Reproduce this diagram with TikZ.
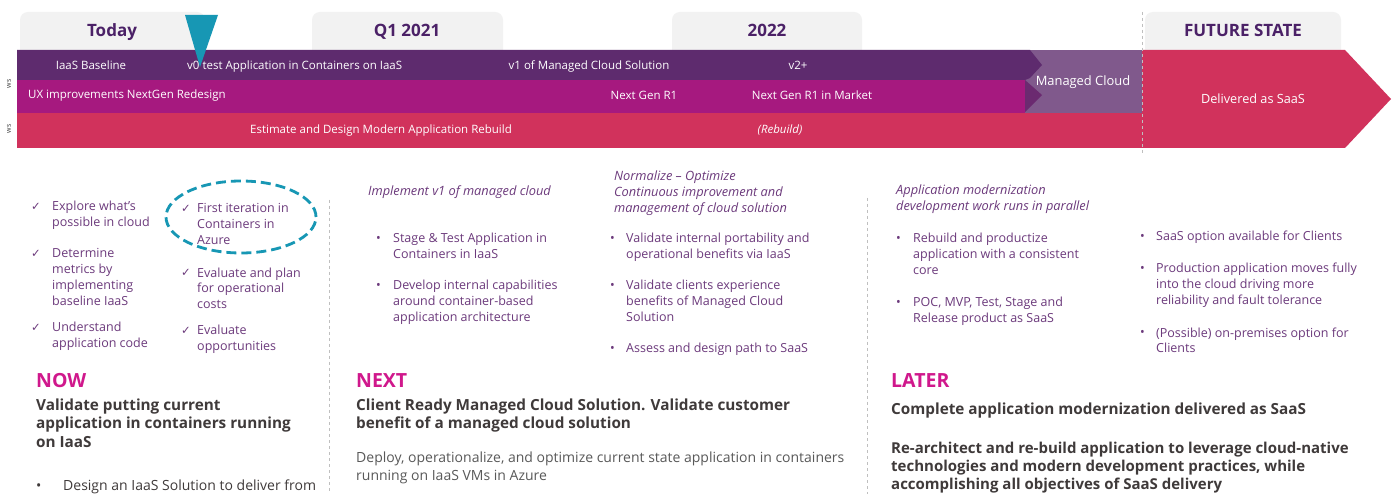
\documentclass[tikz,border=0pt]{standalone}
\usepackage{fontspec}
\setmainfont{Open Sans}
\newfontfamily\symfont{DejaVu Sans}

\definecolor{tabgray}{HTML}{F2F2F2}
\definecolor{hdpurple}{HTML}{4B2167}
\definecolor{barpurple}{HTML}{5E2B6E}
\definecolor{barmag}{HTML}{A6197F}
\definecolor{barred}{HTML}{D1325C}
\definecolor{mcpurple}{HTML}{80598C}
\definecolor{chevdark}{HTML}{6B2A70}
\definecolor{markteal}{HTML}{1797B4}
\definecolor{txtpurple}{HTML}{6C3A7C}
\definecolor{hotpink}{HTML}{D0188C}
\definecolor{darktext}{HTML}{3F3A3A}
\definecolor{bodygray}{HTML}{595959}
\definecolor{sepgray}{HTML}{BFBFBF}

\tikzset{
  tabtext/.style={anchor=base,inner sep=0,text=hdpurple,font=\bfseries\fontsize{17}{20}\selectfont},
  bartext/.style={anchor=base,inner sep=0,text=white,font=\fontsize{11.5}{14}\selectfont},
  wslabel/.style={anchor=center,inner sep=0,rotate=90,text=darkgray,font=\fontsize{7}{8}\selectfont},
  item/.style={anchor=base west,align=left,inner sep=0,text=txtpurple,font=\fontsize{12.5}{16}\selectfont},
  itemhead/.style={item,font=\itshape\fontsize{12.8}{16}\selectfont},
  chk/.style={anchor=base west,inner sep=0,text=txtpurple,font=\symfont\fontsize{11.5}{12}\selectfont},
  dot/.style={anchor=base west,inner sep=0,text=txtpurple,font=\fontsize{12.5}{16}\selectfont},
  phase/.style={anchor=base west,inner sep=0,text=hotpink,font=\bfseries\fontsize{19.5}{22}\selectfont},
  goal/.style={anchor=base west,align=left,inner sep=0,text=darktext,font=\bfseries\fontsize{15.3}{18.5}\selectfont},
  body/.style={anchor=base west,align=left,inner sep=0,text=bodygray,font=\fontsize{14}{18}\selectfont},
  sep/.style={sepgray,dashed,line width=0.8pt}
}

\begin{document}
\begin{tikzpicture}[x=1pt,y=-1pt]
\useasboundingbox (0,0) rectangle (1393,494);
\fill[white] (0,0) rectangle (1393,494);

% header tabs
\fill[tabgray,rounded corners=8pt] (20,12) rectangle (205,60);
\fill[tabgray,rounded corners=8pt] (312,12) rectangle (503,60);
\fill[tabgray,rounded corners=8pt] (672,12) rectangle (862,60);
\fill[tabgray,rounded corners=8pt] (1145,12) rectangle (1341,60);
\node[tabtext] (today) at (112,37) {Today};
\node[tabtext] (q1) at (407,37) {Q1 2021};
\node[tabtext] (y22) at (767,37) {2022};
\node[tabtext] (future) at (1243,37) {FUTURE STATE};

% bars
\fill[mcpurple] (1020,50) rectangle (1142,113);
\fill[barred] (17,113) rectangle (1142,148);
\fill[barred] (1142,50) -- (1345,50) -- (1391,99) -- (1345,148) -- (1142,148) -- cycle;
\fill[barmag] (17,80) rectangle (1025,113);
\fill[chevdark] (1025,80) -- (1042,95) -- (1025,112) -- cycle;
\fill[barpurple] (17,50) -- (1030,50) -- (1042,65) -- (1030,78) -- (1025,80) -- (17,80) -- cycle;
\draw[sep] (1142,12) -- (1142,155);
\fill[markteal] (185,15) -- (218,15) -- (200,67) -- cycle;

\node[wslabel] (ws1) at (9,84) {ws};
\node[wslabel] (ws2) at (9,129) {ws};

\node[bartext] (b1) at (91,70) {IaaS Baseline};
\node[bartext,anchor=base west] (b2) at (187,70) {v0 test Application in Containers on IaaS};
\node[bartext] (b3) at (589,70) {v1 of Managed Cloud Solution};
\node[bartext] (b4) at (798,70) {v2+};
\node[bartext,anchor=base west] (b5) at (28,99) {UX improvements NextGen Redesign};
\node[bartext] (b6) at (644,100) {Next Gen R1};
\node[bartext] (b7) at (812,100) {Next Gen R1 in Market};
\node[bartext] (b8) at (381,134) {Estimate and Design Modern Application Rebuild};
\node[bartext,font=\itshape\fontsize{11.5}{14}\selectfont] (b9) at (780,134) {(Rebuild)};
\node[bartext,font=\fontsize{12.9}{15}\selectfont] (mc) at (1083,86) {Managed Cloud};
\node[bartext,font=\fontsize{12.7}{15}\selectfont] (saas) at (1253,104) {Delivered as SaaS};

% separators
\draw[sep] (329,200) -- (329,494);
\draw[sep] (867,198) -- (867,494);

% now column
\node[chk] (k1) at (31,211) {✓};
\node[item] (n1) at (52,227) {Explore what’s\\possible in cloud};
\node[chk] (k2) at (31,258) {✓};
\node[item] (n2) at (52,306) {Determine\\metrics by\\implementing\\baseline IaaS};
\node[chk] (k3) at (31,332) {✓};
\node[item] (n3) at (52,348) {Understand\\application code};
\node[chk] (k4) at (181,213) {✓};
\node[item] (n4) at (197,245) {First iteration in\\Containers in\\Azure};
\node[chk] (k5) at (181,277) {✓};
\node[item] (n5) at (197,309) {Evaluate and plan\\for operational\\costs};
\node[chk] (k6) at (181,335) {✓};
\node[item] (n6) at (197,351) {Evaluate\\opportunities};
\draw[markteal,line width=2.8pt,dash pattern=on 10pt off 5pt] (241,217) ellipse [x radius=75pt,y radius=36pt];

% next column
\node[itemhead] (h1) at (368,196) {Implement v1 of managed cloud};
\node[dot] (d1) at (376,243) {•};
\node[item] (x1) at (393,259) {Stage \& Test Application in\\Containers in IaaS};
\node[dot] (d2) at (376,290) {•};
\node[item] (x2) at (393,322) {Develop internal capabilities\\around container-based\\application architecture};
\node[itemhead] (h2) at (614,213) {Normalize – Optimize\\Continuous improvement and\\management of cloud solution};
\node[dot] (d3) at (610,243) {•};
\node[item] (x3) at (626,259) {Validate internal portability and\\operational benefits via IaaS};
\node[dot] (d4) at (610,290) {•};
\node[item] (x4) at (626,322) {Validate clients experience\\benefits of Managed Cloud\\Solution};
\node[dot] (d5) at (610,353) {•};
\node[item] (x5) at (626,353) {Assess and design path to SaaS};

% later column
\node[itemhead] (h3) at (896,211) {Application modernization\\development work runs in parallel};
\node[dot] (d6) at (896,243) {•};
\node[item] (y1) at (913,275) {Rebuild and productize\\application with a consistent\\core};
\node[dot] (d7) at (896,307) {•};
\node[item] (y2) at (913,323) {POC, MVP, Test, Stage and\\Release product as SaaS};
\node[dot] (d8) at (1140,241) {•};
\node[item] (y3) at (1156,241) {SaaS option available for Clients};
\node[dot] (d9) at (1140,273) {•};
\node[item] (y4) at (1156,305) {Production application moves fully\\into the cloud driving more\\reliability and fault tolerance};
\node[dot] (d10) at (1140,337) {•};
\node[item] (y5) at (1156,353) {(Possible) on-premises option for\\Clients};

% phases
\node[phase] (now) at (36,388) {NOW};
\node[goal] (g1) at (36,447) {Validate putting current\\application in containers running\\on IaaS};
\node[body,text=darktext] (dd) at (36,490) {•};
\node[body,text=darktext] (g2) at (63,490) {Design an IaaS Solution to deliver from};
\node[phase] (next) at (356,388) {NEXT};
\node[goal] (g3) at (356,428.5) {Client Ready Managed Cloud Solution. Validate customer\\benefit of a managed cloud solution};
\node[body] (g4) at (356,480) {Deploy, operationalize, and optimize current state application in containers\\running on IaaS VMs in Azure};
\node[phase] (later) at (891,388) {LATER};
\node[goal] (g5) at (891,414) {Complete application modernization delivered as SaaS};
\node[goal,font=\bfseries\fontsize{15}{18}\selectfont] (g6) at (891,489) {Re-architect and re-build application to leverage cloud-native\\technologies and modern development practices, while\\accomplishing all objectives of SaaS delivery};
\end{tikzpicture}
\end{document}
